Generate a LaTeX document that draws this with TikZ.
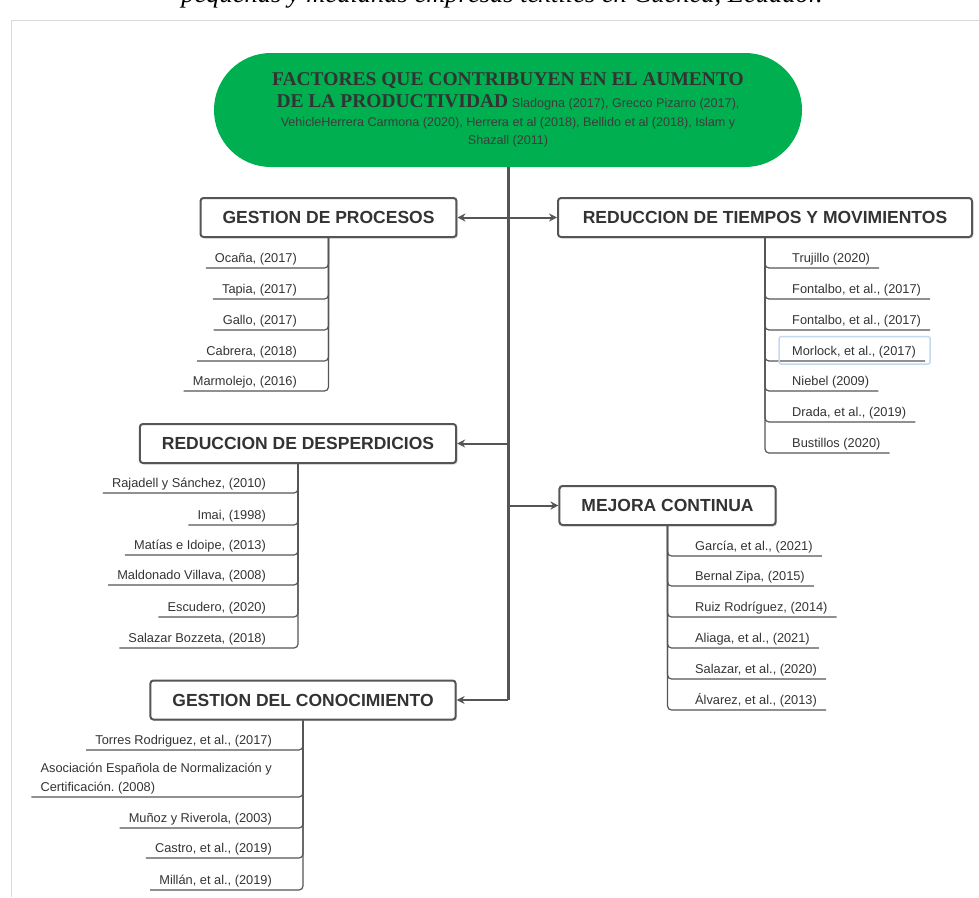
\documentclass[tikz,border=0pt]{standalone}
\usepackage{fontspec}
\setmainfont{Liberation Serif}
\setsansfont{Liberation Sans}
\usetikzlibrary{arrows.meta,shadows}

\definecolor{mapgreen}{RGB}{0,176,80}
\definecolor{linegray}{RGB}{85,85,85}
\definecolor{textgray}{RGB}{51,51,51}
\definecolor{citegray}{RGB}{60,60,60}
\definecolor{framegray}{RGB}{217,217,217}
\definecolor{selblue}{RGB}{196,216,240}

\newcommand{\factfont}{\rmfamily\bfseries\fontsize{19.5}{22}\selectfont\color{textgray}}

\tikzset{
  titlebox/.style={fill=mapgreen, rounded corners=56.9pt, minimum width=588pt,
    minimum height=114pt, align=center, text=citegray,
    font=\sffamily\fontsize{12.6}{17.5}\selectfont},
  topic/.style={draw=linegray, line width=2pt, fill=white, rounded corners=3pt,
    inner xsep=22pt, minimum height=39pt, text=textgray,
    font=\sffamily\bfseries\fontsize{17.5}{20}\selectfont,
    drop shadow={opacity=0.25, shadow xshift=1.5pt, shadow yshift=-1.5pt}},
  leaf/.style={inner xsep=9pt, inner ysep=3pt, text=textgray,
    font=\sffamily\fontsize{12.8}{19}\selectfont},
  leafline/.style={draw=linegray, line width=1.2pt, rounded corners=4pt},
  branch/.style={draw=linegray, line width=2pt, -{Stealth[length=8pt,width=8pt]}},
  trunk/.style={draw=linegray, line width=3pt},
}

\begin{document}
\begin{tikzpicture}[x=1pt, y=-1pt]

    % Page size and the frame of the figure
    \useasboundingbox (0,0) rectangle (979,897);
    \draw[framegray, line width=1pt] (11,897) -- (11,20) -- (979,20);

    % Caption line, cut at the top of the page
    \node[anchor=base, font=\itshape\fontsize{26.5}{30}\selectfont] (caption) at (502,2)
        {pequeñas y medianas empresas textiles en Cuenca, Ecuador.};

    % Central topic
    \node[titlebox] (title) at (508,110) {%
        {\factfont FACTORES QUE CONTRIBUYEN EN EL AUMENTO}\\[4pt]
        {\factfont DE LA PRODUCTIVIDAD} Sladogna (2017), Grecco Pizarro (2017),\\[2pt]
        VehicleHerrera Carmona (2020), Herrera et al (2018), Bellido et al (2018), Islam y\\
        Shazall (2011)};

    % Main topics
    \node[topic] (gp) at (328.5,217.5) {GESTION DE PROCESOS};
    \node[topic, minimum width=414pt] (rt) at (765,217.5) {REDUCCION DE TIEMPOS Y MOVIMIENTOS};
    \node[topic] (rd) at (298,443.5) {REDUCCION DE DESPERDICIOS};
    \node[topic] (mc) at (667.5,505.5) {MEJORA CONTINUA};
    \node[topic] (gc) at (303,700) {GESTION DEL CONOCIMIENTO};

    % Trunk and arrows to the topics
    \draw[trunk] (title.south) -- (title.south |- gc.east);
    \draw[branch] (title.south |- gp.east) -- (gp.east);
    \draw[branch] (title.south |- rt.west) -- (rt.west);
    \draw[branch] (title.south |- rd.east) -- (rd.east);
    \draw[branch] (title.south |- mc.west) -- (mc.west);
    \draw[branch] (title.south |- gc.east) -- (gc.east);

    % GESTION DE PROCESOS
    \node[leaf, anchor=south east] (gp1) at (306,268) {Ocaña, (2017)};
    \node[leaf, anchor=south east] (gp2) at (306,299) {Tapia, (2017)};
    \node[leaf, anchor=south east] (gp3) at (306,330) {Gallo, (2017)};
    \node[leaf, anchor=south east] (gp4) at (306,361) {Cabrera, (2018)};
    \node[leaf, anchor=south east] (gp5) at (306,391) {Marmolejo, (2016)};
    \draw[leafline] (gp1.south west) -| (gp.south);
    \draw[leafline] (gp2.south west) -| (gp.south);
    \draw[leafline] (gp3.south west) -| (gp.south);
    \draw[leafline] (gp4.south west) -| (gp.south);
    \draw[leafline] (gp5.south west) -| (gp.south);

    % REDUCCION DE TIEMPOS Y MOVIMIENTOS
    \node[leaf, anchor=south west] (rt1) at (783,268) {Trujillo (2020)};
    \node[leaf, anchor=south west] (rt2) at (783,299) {Fontalbo, et al., (2017)};
    \node[leaf, anchor=south west] (rt3) at (783,330) {Fontalbo, et al., (2017)};
    \node[leaf, anchor=south west] (rt4) at (783,361) {Morlock, et al., (2017)};
    \node[leaf, anchor=south west] (rt5) at (783,391) {Niebel (2009)};
    \node[leaf, anchor=south west] (rt6) at (783,422) {Drada, et al., (2019)};
    \node[leaf, anchor=south west] (rt7) at (783,453) {Bustillos (2020)};
    \draw[leafline] (rt1.south east) -| (rt.south);
    \draw[leafline] (rt2.south east) -| (rt.south);
    \draw[leafline] (rt3.south east) -| (rt.south);
    \draw[leafline] (rt4.south east) -| (rt.south);
    \draw[leafline] (rt5.south east) -| (rt.south);
    \draw[leafline] (rt6.south east) -| (rt.south);
    \draw[leafline] (rt7.south east) -| (rt.south);
    % selection frame round Morlock
    \draw[selblue, line width=1.5pt, rounded corners=2pt]
        ([xshift=-4pt, yshift=6pt]rt4.north west) rectangle ([xshift=5pt, yshift=-3pt]rt4.south east);

    % REDUCCION DE DESPERDICIOS
    \node[leaf, anchor=south east] (rd1) at (275,493) {Rajadell y Sánchez, (2010)};
    \node[leaf, anchor=south east] (rd2) at (275,525) {Imai, (1998)};
    \node[leaf, anchor=south east] (rd3) at (275,555) {Matías e Idoipe, (2013)};
    \node[leaf, anchor=south east] (rd4) at (275,585) {Maldonado Villava, (2008)};
    \node[leaf, anchor=south east] (rd5) at (275,617) {Escudero, (2020)};
    \node[leaf, anchor=south east] (rd6) at (275,648) {Salazar Bozzeta, (2018)};
    \draw[leafline] (rd1.south west) -| (rd.south);
    \draw[leafline] (rd2.south west) -| (rd.south);
    \draw[leafline] (rd3.south west) -| (rd.south);
    \draw[leafline] (rd4.south west) -| (rd.south);
    \draw[leafline] (rd5.south west) -| (rd.south);
    \draw[leafline] (rd6.south west) -| (rd.south);

    % MEJORA CONTINUA
    \node[leaf, anchor=south west] (mc1) at (686,556) {García, et al., (2021)};
    \node[leaf, anchor=south west] (mc2) at (686,586) {Bernal Zipa, (2015)};
    \node[leaf, anchor=south west] (mc3) at (686,617) {Ruiz Rodríguez, (2014)};
    \node[leaf, anchor=south west] (mc4) at (686,648) {Aliaga, et al., (2021)};
    \node[leaf, anchor=south west] (mc5) at (686,679) {Salazar, et al., (2020)};
    \node[leaf, anchor=south west] (mc6) at (686,710) {Álvarez, et al., (2013)};
    \draw[leafline] (mc1.south east) -| (mc.south);
    \draw[leafline] (mc2.south east) -| (mc.south);
    \draw[leafline] (mc3.south east) -| (mc.south);
    \draw[leafline] (mc4.south east) -| (mc.south);
    \draw[leafline] (mc5.south east) -| (mc.south);
    \draw[leafline] (mc6.south east) -| (mc.south);

    % GESTION DEL CONOCIMIENTO
    \node[leaf, anchor=south east] (gc1) at (281,750) {Torres Rodriguez, et al., (2017)};
    \node[leaf, anchor=south east, align=left] (gc2) at (281,797)
        {Asociación Española de Normalización y\\Certificación.\ (2008)};
    \node[leaf, anchor=south east] (gc3) at (281,828) {Muñoz y Riverola, (2003)};
    \node[leaf, anchor=south east] (gc4) at (281,858) {Castro, et al., (2019)};
    \node[leaf, anchor=south east] (gc5) at (281,890) {Millán, et al., (2019)};
    \draw[leafline] (gc1.south west) -| (gc.south);
    \draw[leafline] (gc2.south west) -| (gc.south);
    \draw[leafline] (gc3.south west) -| (gc.south);
    \draw[leafline] (gc4.south west) -| (gc.south);
    \draw[leafline] (gc5.south west) -| (gc.south);

\end{tikzpicture}
\end{document}
